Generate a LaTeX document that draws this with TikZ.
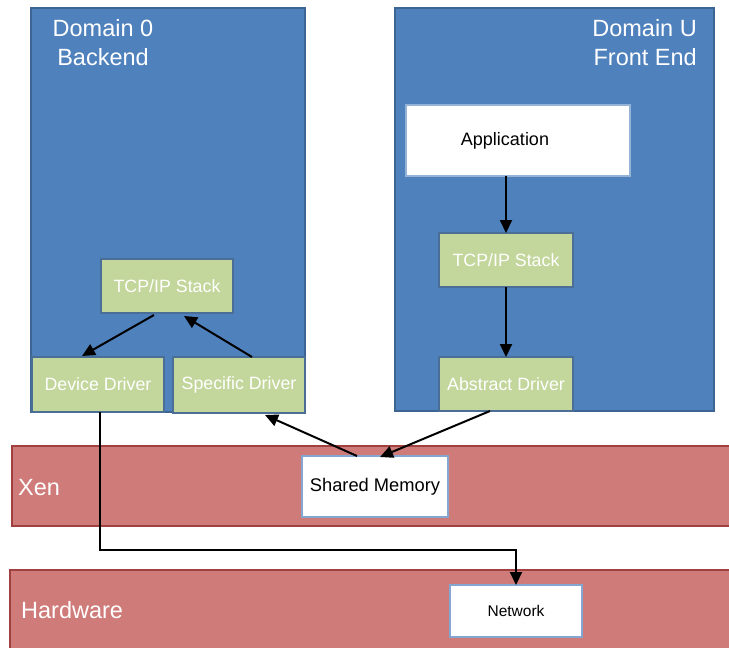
\documentclass[tikz,border=0pt]{standalone}
\usepackage{fontspec}
\setmainfont{Liberation Sans}
\usetikzlibrary{arrows.meta,calc}
\definecolor{domblue}{HTML}{4F81BD}
\definecolor{domedge}{HTML}{3D6594}
\definecolor{drvgreen}{HTML}{C3D69B}
\definecolor{drvedge}{HTML}{4A6E96}
\definecolor{barred}{HTML}{CF7B79}
\definecolor{baredge}{HTML}{A0413F}
\tikzset{
  basebox/.style={draw, line width=2pt, inner sep=0pt, outer sep=0pt, anchor=north west},
  dombox/.style={basebox, fill=domblue, draw=domedge},
  drv/.style={basebox, fill=drvgreen, draw=drvedge, text=white, font=\fontsize{17.8}{20}\selectfont},
  whitebox/.style={basebox, fill=white, draw=domblue!70!white, text=black},
  redbar/.style={basebox, fill=barred, draw=baredge},
  biglabel/.style={text=white, font=\fontsize{23.5}{29}\selectfont, inner sep=0pt},
  arr/.style={line width=2pt, -{Triangle[length=13pt,width=12pt]}},
}
\begin{document}
\begin{tikzpicture}[x=1pt,y=-1pt]
\useasboundingbox (0,0) rectangle (729,648);
% domains
\node[dombox, minimum width=274pt, minimum height=404pt] (dom0) at (31,8) {};
\node[dombox, minimum width=319pt, minimum height=403pt] (domu) at (395,8) {};
\node[biglabel, align=center] (dom0lbl) at (103,43) {Domain 0\\Backend};
\node[biglabel, align=right, anchor=east] (domulbl) at (697,43) {Domain U\\Front End};
% bars
\node[redbar, minimum width=730pt, minimum height=80pt] (xen) at (12,446) {};
\node[redbar, minimum width=730pt, minimum height=90pt] (hw) at (10,570) {};
\node[biglabel, anchor=west] (xenlbl) at (18,488) {Xen};
\node[biglabel, anchor=west] (hwlbl) at (21,610) {Hardware};
% Domain U contents
\node[basebox, fill=white, draw=domblue!60!white, minimum width=224pt, minimum height=71pt] (app) at (406,105) {};
\node[font=\fontsize{18}{20}\selectfont, inner sep=0pt] (applbl) at (505,141) {Application};
\node[drv, minimum width=134pt, minimum height=54pt] (tcpu) at (439,233) {TCP/IP Stack};
\node[drv, minimum width=134pt, minimum height=54pt] (abs) at (439,357) {Abstract Driver};
% Domain 0 contents
\node[drv, minimum width=132pt, minimum height=54pt] (tcp0) at (101,259) {TCP/IP Stack};
\node[drv, minimum width=132pt, minimum height=55pt] (dd) at (32,357) {Device Driver};
\node[drv, minimum width=132pt, minimum height=56pt] (sd) at (173,357) {Specific Driver};
% Xen / hardware contents
\node[whitebox, minimum width=146pt, minimum height=61pt,
      font=\fontsize{18.3}{20}\selectfont] (shm) at (302,456) {Shared Memory};
\node[whitebox, minimum width=132pt, minimum height=52pt,
      font=\fontsize{15.5}{18}\selectfont] (net) at (450,585) {Network};
% arrows
\draw[arr] (app.south -| 506,0) -- (tcpu.north -| 506,0);
\draw[arr] (tcpu.south -| 506,0) -- (abs.north -| 506,0);
\draw[arr] ($(tcp0.south)+(-13,2)$) -- ($(dd.north)+(-16,-1)$);
\draw[arr] ($(sd.north)+(13,0)$) -- ($(tcp0.south)+(17,3)$);
\draw[arr] ($(shm.north)+(-18,0)$) -- ($(sd.south)+(26,2)$);
\draw[arr] ($(abs.south)+(-16,0)$) -- ($(shm.north)+(5,1)$);
\coordinate (bend) at (100,550);
\draw[arr] (dd.south -| bend) -- (bend) -| (net.north);
\end{tikzpicture}
\end{document}
